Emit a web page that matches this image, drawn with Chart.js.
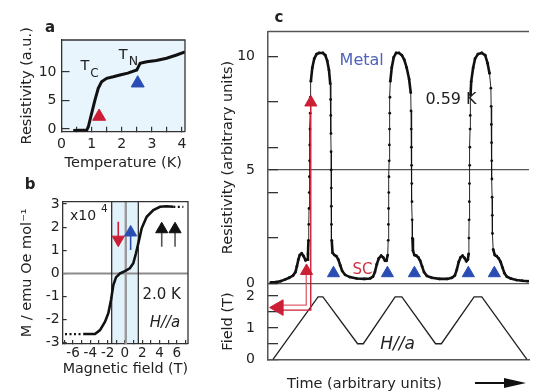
<!DOCTYPE html>
<html>
<head>
<meta charset="utf-8">
<script src="https://cdn.jsdelivr.net/npm/chart.js@4.4.1/dist/chart.umd.min.js"></script>
<style>
  html, body { margin: 0; padding: 0; background: #fff; }
  #wrap { position: relative; width: 539px; height: 391px; overflow: hidden; }
  canvas { position: absolute; left: 0; top: 0; }
</style>
</head>
<body>
<div id="wrap">
  <canvas id="chartA" width="539" height="391"></canvas>
  <canvas id="chartB" width="539" height="391"></canvas>
  <canvas id="chartC" width="539" height="391"></canvas>
</div>
<script>
// panel a: resistivity vs temperature
const tempA = [0.39, 0.6, 0.84, 0.89, 1.0, 1.11, 1.22, 1.33, 1.5, 1.72, 1.94, 2.2, 2.5, 2.55, 2.61, 2.83, 3.15, 3.49, 3.82, 4.1];
const resA = [-0.25, -0.2, -0.18, 0.4, 2.75, 5.08, 7.13, 8.29, 8.88, 9.15, 9.46, 9.8, 10.34, 10.9, 11.5, 11.8, 12.0, 12.4, 12.97, 13.5];
const tcMark = [1.25, 2.19];
const tnMark = [2.53, 8.03];

// panel b: magnetisation vs field (x10^4)
const fieldB = [-4.82, -3.46, -2.88, -2.3, -1.92, -1.61, -1.34, -1.03, -0.56, 0.0, 0.57, 0.97, 1.28, 1.55, 1.94, 2.52, 3.29, 4.06, 4.8, 5.6];
const magB = [-2.62, -2.62, -2.45, -2.09, -1.72, -1.15, -0.5, -0.17, 0.0, 0.1, 0.22, 0.44, 0.87, 1.3, 1.95, 2.45, 2.74, 2.88, 2.9, 2.88];
const arrowFieldB = [-0.77, 0.66, 4.26, 5.8];
const arrowTailB = [2.23, 1.01, 1.15, 1.15];
const arrowHeadB = [1.46, 1.77, 1.91, 1.91];

// panel c: resistivity and field vs time
const timeC = [3, 8, 13, 18, 22, 26, 28.5, 30, 31.5, 33, 35, 37, 39, 40.5, 41.5, 42, 42.3, 42.6, 42.8, 43, 43.2, 43.4, 43.6, 43.8, 44, 44.5, 46, 48, 50.5, 53, 57, 59.5, 61.5, 63.3, 64.6, 65, 65.2, 65.4, 65.5, 65.6, 65.7, 65.8, 65.9, 66.2, 67, 69, 71, 73, 75, 77, 80, 85, 92, 100, 106, 109, 111, 113, 115, 117.5, 119.5, 121.5, 123, 124.3, 124.8, 125, 125.2, 125.4, 125.6, 125.8, 126, 126.2, 126.4, 126.6, 127, 128.5, 130.5, 133, 136, 139, 141.5, 144, 146.5, 148.2, 148.5, 148.7, 148.9, 149.1, 149.3, 149.5, 149.7, 149.9, 150.5, 152, 154, 156, 158, 160, 162, 165, 170, 178, 186, 191, 194, 196, 198, 200, 202, 204, 206, 207.5, 208.3, 208.6, 208.8, 209, 209.2, 209.4, 209.6, 209.8, 210, 210.3, 211, 213, 215, 218, 222, 225.5, 228, 230, 231.4, 231.7, 231.9, 232.1, 232.3, 232.5, 232.7, 232.9, 233.1, 233.8, 235.5, 237.5, 239.5, 241.5, 243.5, 245.5, 248, 252, 258, 264, 270];
const resC = [0.05, 0.06, 0.1, 0.18, 0.25, 0.35, 0.5, 0.75, 1.05, 1.25, 1.32, 1.2, 1.02, 1.05, 1.3, 1.9, 2.6, 3.3, 4.0, 4.7, 5.4, 6.1, 6.8, 7.5, 8.2, 8.9, 9.5, 9.9, 10.1, 10.15, 10.15, 10.05, 9.8, 9.4, 8.8, 8.1, 7.4, 6.6, 5.8, 5.0, 4.2, 3.4, 2.6, 1.9, 1.35, 1.25, 1.2, 1.05, 0.8, 0.55, 0.38, 0.28, 0.22, 0.2, 0.22, 0.3, 0.5, 0.85, 1.1, 1.22, 1.15, 1.0, 1.0, 1.25, 1.9, 2.6, 3.3, 4.0, 4.7, 5.4, 6.1, 6.8, 7.5, 8.2, 8.9, 9.5, 9.95, 10.15, 10.15, 10.05, 9.85, 9.5, 9.0, 8.4, 7.6, 6.8, 6.0, 5.2, 4.4, 3.6, 2.8, 2.0, 1.45, 1.25, 1.22, 1.15, 1.0, 0.75, 0.5, 0.33, 0.25, 0.2, 0.2, 0.25, 0.35, 0.6, 0.95, 1.15, 1.22, 1.12, 0.98, 1.05, 1.3, 2.0, 2.8, 3.6, 4.4, 5.2, 6.0, 6.8, 7.4, 8.3, 8.9, 9.5, 9.9, 10.1, 10.15, 10.05, 9.7, 9.25, 8.6, 7.8, 7.0, 6.2, 5.4, 4.6, 3.8, 3.0, 2.2, 1.5, 1.25, 1.2, 1.1, 0.95, 0.7, 0.45, 0.3, 0.22, 0.15, 0.12, 0.1];
const rampTime = [5, 52, 57, 93, 99, 132, 139, 174, 180, 214, 222, 269];
const rampField = [0, 1.98, 1.98, 0.5, 0.5, 1.98, 1.98, 0.5, 0.5, 1.98, 1.98, 0];
const metalTimes = [68, 124, 152, 208, 235];
const scTime = [40, 44.5];
const scLevel = [0.55, 7.97];
const stepTime = [39.7, 44.4];
const stepField = [1.72, 1.56];

const red = '#cc1f36', pink = '#e0606e', blue = '#2a4db3';
const FONT = '"DejaVu Sans", sans-serif';

Chart.defaults.font.family = FONT;
Chart.defaults.color = '#222';

const pts = (xs, ys) => xs.map((x, i) => ({ x, y: ys[i] }));

function line(data, color, width, extra) {
  return Object.assign({ data, borderColor: color, borderWidth: width, pointRadius: 0, tension: 0, fill: false }, extra);
}
function marks(data, color, extra) {
  return Object.assign({ data, showLine: false, pointStyle: 'triangle', pointRadius: 7,
    pointBackgroundColor: color, pointBorderColor: color, pointBorderWidth: 1 }, extra);
}
function baseOptions(padding, scales) {
  return {
    responsive: false, animation: false, devicePixelRatio: 1, events: [],
    layout: { padding },
    plugins: { legend: { display: false }, tooltip: { enabled: false } },
    scales
  };
}
const tickCol = ok => c => (c.tick && ok(c.tick.value)) ? '#333' : 'rgba(0,0,0,0)';

// background, frame and text labels
function decor(cfg) {
  return {
    id: 'decor',
    beforeDraw(chart) {
      const { ctx, chartArea: a, scales } = chart;
      ctx.save();
      if (cfg.fill) { ctx.fillStyle = cfg.fill; ctx.fillRect(a.left, a.top, a.width, a.height); }
      if (cfg.band) {
        const x1 = scales.x.getPixelForValue(cfg.band[0]);
        const x2 = scales.x.getPixelForValue(cfg.band[1]);
        ctx.fillStyle = cfg.band[2];
        ctx.fillRect(x1, a.top, x2 - x1, a.height);
      }
      ctx.restore();
    },
    afterDraw(chart) {
      const { ctx, chartArea: a } = chart;
      ctx.save();
      ctx.strokeStyle = cfg.frameColor;
      ctx.lineWidth = cfg.frameWidth;
      ctx.beginPath();
      ctx.moveTo(a.left, a.top);
      ctx.lineTo(a.right, a.top);
      if (cfg.closeRight) ctx.lineTo(a.right, a.bottom);
      ctx.stroke();
      cfg.texts.forEach(([text, x, y, font, color, align]) => {
        ctx.font = font;
        ctx.fillStyle = color || '#222';
        ctx.textAlign = align || 'center';
        ctx.textBaseline = 'middle';
        ctx.fillText(text, x, y);
      });
      if (cfg.arrow) {
        const [x1, x2, y] = cfg.arrow;
        ctx.strokeStyle = '#111'; ctx.fillStyle = '#111'; ctx.lineWidth = 2.2;
        ctx.beginPath(); ctx.moveTo(x1, y); ctx.lineTo(x2 - 18, y); ctx.stroke();
        ctx.beginPath(); ctx.moveTo(x2, y); ctx.lineTo(x2 - 22, y - 5); ctx.lineTo(x2 - 22, y + 5); ctx.closePath(); ctx.fill();
      }
      ctx.restore();
    }
  };
}

// ---- panel a
new Chart(document.getElementById('chartA'), {
  type: 'line',
  data: { datasets: [
    marks([{ x: tcMark[0], y: tcMark[1] }], red, { pointRadius: 7.5 }),
    marks([{ x: tnMark[0], y: tnMark[1] }], blue, { pointRadius: 7.5 }),
    line(pts(tempA, resA), '#111', 3)
  ]},
  options: baseOptions({ left: 0, top: 40, right: 354, bottom: 216 }, {
    x: {
      type: 'linear', min: 0, max: 4.1,
      afterFit: s => { s.height = 43.3; },
      ticks: { stepSize: 0.5, includeBounds: false, autoSkip: false, maxRotation: 0, padding: 9, font: { size: 14 },
               callback: v => Number.isInteger(v) ? String(v) : '' },
      grid: { drawOnChartArea: false, tickLength: -5, lineWidth: 1.2, color: '#333', tickColor: '#333' },
      border: { color: '#333', width: 1.3 },
      title: { display: true, text: 'Temperature (K)', font: { size: 14.5 }, padding: { top: 0, bottom: 3.3 } }
    },
    y: {
      type: 'linear', min: -0.47, max: 15.6,
      afterFit: s => { s.width = 61.5; },
      ticks: { stepSize: 5, includeBounds: false, autoSkip: false, padding: 13, font: { size: 14 },
               callback: v => (v >= 0 && v <= 10) ? String(v) : '' },
      grid: { drawOnChartArea: false, tickLength: -8, lineWidth: 1.2, color: '#333', tickColor: tickCol(v => v >= 0 && v <= 10) },
      border: { color: '#333', width: 1.3 },
      title: { display: true, text: 'Resistivity (a.u.)', font: { size: 14.5 }, padding: { top: 19, bottom: 0 } }
    }
  }),
  plugins: [decor({
    fill: '#e8f5fc', frameColor: '#333', frameWidth: 1.3, closeRight: true,
    texts: [
      ['a', 50, 28, 'bold 15px ' + FONT],
      ['T', 85, 66.5, '14.5px ' + FONT],
      ['C', 94.5, 73.5, '12px ' + FONT],
      ['T', 123.3, 55, '14.5px ' + FONT],
      ['N', 133.5, 61.5, '12.5px ' + FONT]
    ]
  })]
});

// ---- panel b
const arrowDatasets = [];
arrowFieldB.forEach((f, i) => {
  const col = i === 0 ? red : (i === 1 ? blue : '#111');
  const shaft = i === 0 ? red : (i === 1 ? blue : '#555');
  arrowDatasets.push(marks([{ x: f, y: arrowHeadB[i] }], col, { pointRotation: i === 0 ? 180 : 0, order: 0 }));
  arrowDatasets.push(line([{ x: f, y: arrowTailB[i] }, { x: f, y: arrowHeadB[i] }], shaft, 1.6, { order: 1 }));
});

new Chart(document.getElementById('chartB'), {
  type: 'line',
  data: { datasets: [
    ...arrowDatasets,
    line(pts(fieldB, magB), '#111', 2.6, { order: 2 }),
    line([{ x: -6.93, y: -2.62 }, { x: -4.82, y: -2.62 }], '#111', 2.2, { borderDash: [2, 2.5], order: 2 }),
    line([{ x: 5.6, y: 2.88 }, { x: 6.76, y: 2.88 }], '#111', 2.2, { borderDash: [2, 2.5], order: 2 }),
    line([{ x: -1.53, y: -3.05 }, { x: -1.53, y: 3.1 }], '#222', 1.2, { order: 3 }),
    line([{ x: 1.55, y: -3.05 }, { x: 1.55, y: 3.1 }], '#222', 1.2, { order: 3 }),
    line([{ x: 0.1, y: -3.05 }, { x: 0.1, y: 3.1 }], '#999', 2.4, { order: 4 }),
    line([{ x: -7.2, y: 0 }, { x: 7.3, y: 0 }], '#8c8c8c', 2, { order: 4 })
  ]},
  options: baseOptions({ left: 0, top: 201.7, right: 351, bottom: 11 }, {
    x: {
      type: 'linear', min: -7.2, max: 7.3,
      afterFit: s => { s.height = 36; },
      ticks: { stepSize: 1, includeBounds: false, autoSkip: false, maxRotation: 0, padding: 5.6, font: { size: 13.5 },
               callback: v => (v % 2 === 0) ? String(v) : '' },
      grid: { drawOnChartArea: false, tickLength: -4, lineWidth: 1.2, color: '#333', tickColor: '#333' },
      border: { color: '#333', width: 1.3 },
      title: { display: true, text: 'Magnetic field (T)', font: { size: 14.5 }, padding: { top: 0, bottom: 1.8 } }
    },
    y: {
      type: 'linear', min: -3.05, max: 3.1,
      afterFit: s => { s.width = 62.7; },
      ticks: { stepSize: 1, includeBounds: false, autoSkip: false, padding: 7, font: { size: 14 } },
      grid: { drawOnChartArea: false, tickLength: -4, lineWidth: 1.2, color: '#333', tickColor: '#333' },
      border: { color: '#333', width: 1.3 },
      title: { display: true, text: 'M / emu Oe mol⁻¹', font: { size: 14.5 }, padding: { top: 19, bottom: 0 } }
    }
  }),
  plugins: [decor({
    band: [-1.53, 1.55, '#e2f2fb'], frameColor: '#333', frameWidth: 1.3, closeRight: true,
    texts: [
      ['b', 30, 185, 'bold 15px ' + FONT],
      ['x10', 70, 216, '14px ' + FONT, '#222', 'left'],
      ['4', 101, 209, '10.5px ' + FONT, '#222', 'left'],
      ['2.0 K', 161.7, 295, '15px ' + FONT],
      ['H//a', 165, 323.3, 'italic 15px ' + FONT]
    ]
  })]
});

// ---- panel c
new Chart(document.getElementById('chartC'), {
  type: 'line',
  data: { datasets: [
    marks(metalTimes.map(t => ({ x: t, y: 0.45 })), blue, { yAxisID: 'yR' }),
    marks(pts(scTime, scLevel), red, { yAxisID: 'yR' }),
    marks([{ x: 11, y: 1.64 }], red, { yAxisID: 'yF', pointRotation: 270, pointRadius: 9 }),
    line([{ x: stepTime[1], y: 7.82 }, { x: stepTime[1], y: 0 }], red, 1.4, { yAxisID: 'yR' }),
    line([{ x: stepTime[1], y: 2.4 }, { x: stepTime[1], y: stepField[1] }, { x: 15, y: stepField[1] }], red, 1.4, { yAxisID: 'yF' }),
    line([{ x: stepTime[0], y: 0.45 }, { x: stepTime[0], y: 0 }], pink, 1.3, { yAxisID: 'yR' }),
    line([{ x: stepTime[0], y: 2.4 }, { x: stepTime[0], y: stepField[0] }, { x: 15, y: stepField[0] }], pink, 1.3, { yAxisID: 'yF' }),
    line(pts(timeC, resC), '#111', 2.6, {
      yAxisID: 'yR', pointRadius: 1.4, pointBackgroundColor: '#111', pointBorderWidth: 0,
      // steep sides are thin and dotted, flat stretches are heavy
      segment: { borderWidth: s => Math.abs(s.p1.parsed.y - s.p0.parsed.y) > 0.6 ? 0.9 : 2.6 }
    }),
    line(pts(rampTime, rampField), '#222', 1.3, { yAxisID: 'yF' })
  ]},
  options: baseOptions({ left: 220, top: 31, right: 0, bottom: 29.3 }, {
    x: {
      type: 'linear', min: 0, max: 271,
      afterFit: s => { s.height = 0; },
      ticks: { display: false },
      grid: { display: false },
      border: { color: '#555', width: 1.5 }
    },
    yR: {
      type: 'linear', position: 'left', stack: 'c', stackWeight: 3.31, weight: 2,
      min: 0, max: 11.1,
      afterFit: s => { s.width = 48; },
      ticks: { stepSize: 1, includeBounds: false, autoSkip: false, padding: 23, font: { size: 14 },
               callback: v => [0, 5, 10].includes(v) ? String(v) : '' },
      grid: { drawOnChartArea: true, tickLength: -10, lineWidth: 1.3,
              color: c => (c.tick && (c.tick.value === 5 || c.tick.value === 0)) ? '#555' : 'rgba(0,0,0,0)',
              tickColor: tickCol(v => [0, 2, 4, 5, 6, 8, 10].includes(v)) },
      border: { color: '#555', width: 1.5 },
      title: { display: true, text: 'Resistivity (arbitrary units)', font: { size: 14.5 }, padding: { top: 0, bottom: 0 } }
    },
    yF: {
      type: 'linear', position: 'left', stack: 'c', stackWeight: 1, weight: 1,
      min: 0, max: 2.4,
      afterFit: s => { s.width = 48; },
      ticks: { stepSize: 0.5, includeBounds: false, autoSkip: false, padding: 23, font: { size: 14 },
               callback: v => Number.isInteger(v) ? String(v) : '' },
      grid: { drawOnChartArea: false, tickLength: -10, lineWidth: 1.3, color: '#333', tickColor: '#333' },
      border: { color: '#555', width: 1.5 },
      title: { display: true, text: 'Field (T)', font: { size: 14.5 }, padding: { top: 0, bottom: 0 } }
    }
  }),
  plugins: [decor({
    frameColor: '#555', frameWidth: 1.5, closeRight: false,
    texts: [
      ['c', 279, 18, 'bold 15px ' + FONT],
      ['Metal', 361.7, 61, '16px ' + FONT, '#4f63bd'],
      ['0.59 K', 451, 100, '16px ' + FONT],
      ['SC', 362.5, 270, '15px ' + FONT, '#d2313f'],
      ['H//a', 397.5, 345, 'italic 17px ' + FONT],
      ['Time (arbitrary units)', 287, 384, '14.5px ' + FONT, '#222', 'left']
    ],
    arrow: [475, 526, 383]
  })]
});
</script>
</body>
</html>
